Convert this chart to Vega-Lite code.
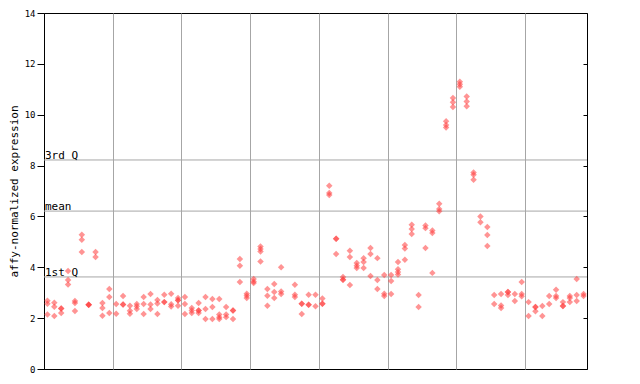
{
  "$schema": "https://vega.github.io/schema/vega-lite/v6.json",
  "width": 543,
  "height": 356,
  "autosize": "none",
  "padding": {"left": 44, "top": 13, "right": 53, "bottom": 15},
  "background": "white",
  "config": {
    "view": {"stroke": "black", "strokeWidth": 1},
    "axis": {"labelFont": "DejaVu Sans Mono", "titleFont": "DejaVu Sans Mono"}
  },
  "datasets": {
    "lines": [
      {"label": "3rd Q", "v": 8.22},
      {"label": "mean", "v": 6.21},
      {"label": "1st Q", "v": 3.62}
    ],
    "pts": [
      {"c":0,"v":2.68},{"c":0,"v":2.57},{"c":0,"v":2.14},
      {"c":1,"v":2.61},{"c":1,"v":2.45},{"c":1,"v":2.08},
      {"c":2,"v":2.38},{"c":2,"v":2.38},{"c":2,"v":2.20},
      {"c":3,"v":3.85},{"c":3,"v":3.50},{"c":3,"v":3.32},
      {"c":4,"v":2.67},{"c":4,"v":2.60},{"c":4,"v":2.28},
      {"c":5,"v":5.28},{"c":5,"v":5.08},{"c":5,"v":4.60},
      {"c":6,"v":2.53},{"c":6,"v":2.53},{"c":6,"v":2.53},
      {"c":7,"v":4.60},{"c":7,"v":4.40},
      {"c":8,"v":2.60},{"c":8,"v":2.40},{"c":8,"v":2.09},
      {"c":9,"v":3.15},{"c":9,"v":2.83},{"c":9,"v":2.20},
      {"c":10,"v":2.56},{"c":10,"v":2.17},
      {"c":11,"v":2.87},{"c":11,"v":2.54},{"c":11,"v":2.54},
      {"c":12,"v":2.49},{"c":12,"v":2.29},{"c":12,"v":2.17},
      {"c":13,"v":2.56},{"c":13,"v":2.47},{"c":13,"v":2.36},
      {"c":14,"v":2.83},{"c":14,"v":2.56},{"c":14,"v":2.16},
      {"c":15,"v":2.95},{"c":15,"v":2.54},{"c":15,"v":2.36},
      {"c":16,"v":2.71},{"c":16,"v":2.58},{"c":16,"v":2.16},
      {"c":17,"v":2.92},{"c":17,"v":2.63},{"c":17,"v":2.63},
      {"c":18,"v":2.96},{"c":18,"v":2.55},{"c":18,"v":2.46},
      {"c":19,"v":2.79},{"c":19,"v":2.70},{"c":19,"v":2.70},{"c":19,"v":2.49},
      {"c":20,"v":2.83},{"c":20,"v":2.56},{"c":20,"v":2.16},
      {"c":21,"v":2.40},{"c":21,"v":2.30},{"c":21,"v":2.20},
      {"c":22,"v":2.60},{"c":22,"v":2.30},{"c":22,"v":2.30},{"c":22,"v":2.20},
      {"c":23,"v":2.83},{"c":23,"v":2.36},{"c":23,"v":1.97},
      {"c":24,"v":2.75},{"c":24,"v":2.44},{"c":24,"v":1.97},
      {"c":25,"v":2.75},{"c":25,"v":2.14},{"c":25,"v":2.04},{"c":25,"v":1.97},
      {"c":26,"v":2.44},{"c":26,"v":2.14},{"c":26,"v":2.04},
      {"c":27,"v":2.30},{"c":27,"v":2.30},{"c":27,"v":1.97},
      {"c":28,"v":4.33},{"c":28,"v":4.06},{"c":28,"v":3.42},
      {"c":29,"v":2.96},{"c":29,"v":2.88},{"c":29,"v":2.79},
      {"c":30,"v":3.54},{"c":30,"v":3.44},{"c":30,"v":3.38},
      {"c":31,"v":4.82},{"c":31,"v":4.72},{"c":31,"v":4.62},{"c":31,"v":4.23},
      {"c":32,"v":3.15},{"c":32,"v":2.88},{"c":32,"v":2.49},
      {"c":33,"v":3.34},{"c":33,"v":3.03},{"c":33,"v":2.79},
      {"c":34,"v":4.00},{"c":34,"v":3.05},{"c":34,"v":2.95},
      {"c":36,"v":3.31},{"c":36,"v":2.92},{"c":36,"v":2.83},
      {"c":37,"v":2.57},{"c":37,"v":2.57},{"c":37,"v":2.16},
      {"c":38,"v":2.92},{"c":38,"v":2.53},{"c":38,"v":2.53},
      {"c":39,"v":2.92},{"c":39,"v":2.47},
      {"c":40,"v":2.77},{"c":40,"v":2.57},{"c":40,"v":2.57},
      {"c":41,"v":7.21},{"c":41,"v":6.92},{"c":41,"v":6.84},
      {"c":42,"v":5.12},{"c":42,"v":5.12},{"c":42,"v":4.52},
      {"c":43,"v":3.62},{"c":43,"v":3.51},{"c":43,"v":3.51},
      {"c":44,"v":4.65},{"c":44,"v":4.40},{"c":44,"v":3.30},
      {"c":45,"v":4.17},{"c":45,"v":4.06},{"c":45,"v":3.97},
      {"c":46,"v":4.36},{"c":46,"v":4.21},{"c":46,"v":3.97},
      {"c":47,"v":4.76},{"c":47,"v":4.52},{"c":47,"v":3.66},
      {"c":48,"v":4.36},{"c":48,"v":3.50},{"c":48,"v":3.15},
      {"c":49,"v":3.70},{"c":49,"v":2.96},{"c":49,"v":2.87},
      {"c":50,"v":3.70},{"c":50,"v":3.46},{"c":50,"v":2.95},
      {"c":51,"v":4.21},{"c":51,"v":3.92},{"c":51,"v":3.81},{"c":51,"v":3.72},
      {"c":52,"v":4.88},{"c":52,"v":4.74},{"c":52,"v":4.30},
      {"c":53,"v":5.67},{"c":53,"v":5.51},{"c":53,"v":5.31},
      {"c":54,"v":2.91},{"c":54,"v":2.44},
      {"c":55,"v":5.64},{"c":55,"v":5.54},{"c":55,"v":4.76},
      {"c":56,"v":5.45},{"c":56,"v":5.35},{"c":56,"v":3.78},
      {"c":57,"v":6.50},{"c":57,"v":6.29},{"c":57,"v":6.20},
      {"c":58,"v":9.74},{"c":58,"v":9.60},{"c":58,"v":9.50},
      {"c":59,"v":10.66},{"c":59,"v":10.49},{"c":59,"v":10.30},
      {"c":60,"v":11.30},{"c":60,"v":11.20},{"c":60,"v":11.10},
      {"c":61,"v":10.72},{"c":61,"v":10.52},{"c":61,"v":10.33},
      {"c":62,"v":7.73},{"c":62,"v":7.64},{"c":62,"v":7.44},
      {"c":63,"v":6.00},{"c":63,"v":5.77},
      {"c":64,"v":5.58},{"c":64,"v":5.27},{"c":64,"v":4.84},
      {"c":65,"v":2.91},{"c":65,"v":2.56},
      {"c":66,"v":2.95},{"c":66,"v":2.50},{"c":66,"v":2.40},
      {"c":67,"v":3.03},{"c":67,"v":3.03},{"c":67,"v":2.91},
      {"c":68,"v":2.95},{"c":68,"v":2.67},
      {"c":69,"v":3.42},{"c":69,"v":2.95},{"c":69,"v":2.86},
      {"c":70,"v":2.63},{"c":70,"v":2.08},
      {"c":71,"v":2.44},{"c":71,"v":2.44},{"c":71,"v":2.27},
      {"c":72,"v":2.48},{"c":72,"v":2.08},
      {"c":73,"v":2.87},{"c":73,"v":2.56},
      {"c":74,"v":3.12},{"c":74,"v":2.87},{"c":74,"v":2.79},
      {"c":75,"v":2.63},{"c":75,"v":2.48},{"c":75,"v":2.48},
      {"c":76,"v":2.87},{"c":76,"v":2.79},{"c":76,"v":2.63},
      {"c":77,"v":3.54},{"c":77,"v":2.91},{"c":77,"v":2.67},
      {"c":78,"v":2.95},{"c":78,"v":2.87}
    ]
  },
  "resolve": {"axis": {"y": "independent"}},
  "layer": [
    {
      "data": {"name": "lines"},
      "mark": {"type": "rule", "color": "#a6a6a6", "strokeWidth": 1},
      "encoding": {
        "y": {
          "field": "v", "type": "quantitative",
          "scale": {"domain": [0, 14], "nice": false, "zero": true},
          "axis": {
            "orient": "right", "values": [0, 2, 4, 6, 8, 10, 12, 14],
            "labels": false, "tickSize": -4, "tickColor": "black",
            "domain": false, "grid": false, "title": null
          }
        }
      }
    },
    {
      "data": {"name": "lines"},
      "mark": {"type": "text", "align": "left", "baseline": "alphabetic", "dx": 1, "dy": -1,
               "font": "DejaVu Sans Mono", "fontSize": 11, "color": "black"},
      "encoding": {
        "x": {"datum": -0.5, "type": "quantitative"},
        "y": {"field": "v", "type": "quantitative", "axis": null},
        "text": {"field": "label"}
      }
    },
    {
      "data": {"name": "pts"},
      "mark": {"type": "point", "shape": "diamond", "filled": true, "size": 42,
               "color": "#ff3c3c", "opacity": 0.55, "strokeWidth": 0},
      "encoding": {
        "x": {
          "field": "c", "type": "quantitative",
          "scale": {"domain": [-0.5, 78.5], "nice": false, "zero": false},
          "axis": {
            "values": [9.5, 19.5, 29.5, 39.5, 49.5, 59.5, 69.5],
            "grid": true, "gridColor": "#a6a6a6", "gridOpacity": 1,
            "ticks": false, "labels": false, "domain": false, "title": null
          }
        },
        "y": {
          "field": "v", "type": "quantitative",
          "axis": {
            "values": [0, 2, 4, 6, 8, 10, 12, 14], "grid": false,
            "tickSize": 7, "tickColor": "black", "domainColor": "black",
            "labelFontSize": 9, "labelColor": "black", "labelPadding": 2,
            "title": "affy-normalized expression", "titleFontSize": 11,
            "titleFontWeight": "normal", "titleColor": "black", "titlePadding": 5
          }
        }
      }
    }
  ]
}
